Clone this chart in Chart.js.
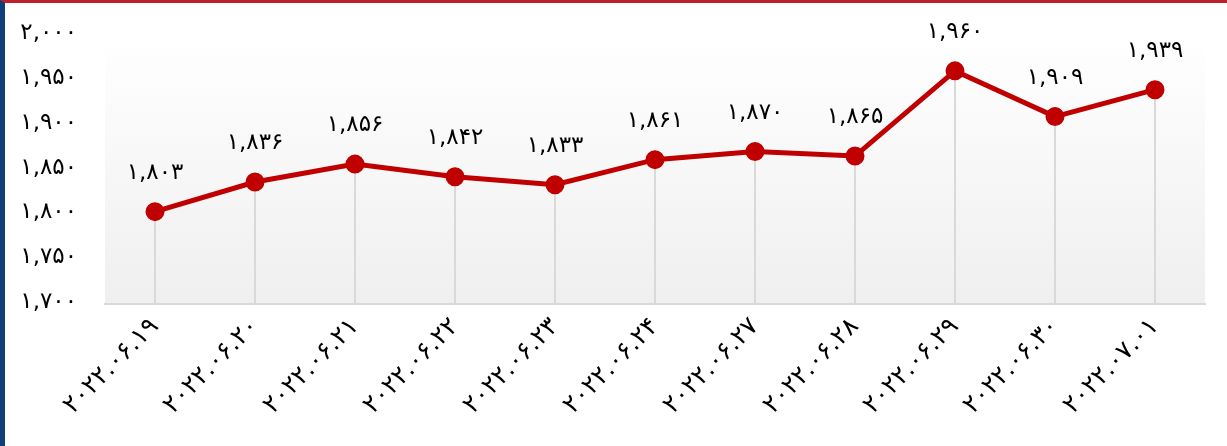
<!DOCTYPE html>
<html>
<head>
<meta charset="utf-8">
<script src="https://cdn.jsdelivr.net/npm/chart.js@4/dist/chart.umd.min.js"></script>
<style>
  html, body { margin: 0; padding: 0; background: #fff; }
  body {
    width: 1222px; height: 443px;
    border-left: 5px solid #0e3f7c;
    border-top: 3px solid #c0202a;
    overflow: hidden;
  }
  #wrap { width: 1222px; height: 443px; position: relative; }
</style>
</head>
<body>
<div id="wrap"><canvas id="chart"></canvas></div>
<script>
const dates = ["2022.06.19", "2022.06.20", "2022.06.21", "2022.06.22", "2022.06.23", "2022.06.24",
  "2022.06.27", "2022.06.28", "2022.06.29", "2022.06.30", "2022.07.01"];
const prices = [1803, 1836, 1856, 1842, 1833, 1861, 1870, 1865, 1960, 1909, 1939];
const yTicks = [1700, 1750, 1800, 1850, 1900, 1950, 2000];

const faDigits = "۰۱۲۳۴۵۶۷۸۹";
const toFa = (s) => String(s).replace(/[0-9]/g, (d) => faDigits[+d]);
const fmt = (n) => toFa(n.toLocaleString("en-US"));

const FONT = "'DejaVu Sans', sans-serif";

// plot background: white at top fading to light grey
const bgPlugin = {
  id: "plotBg",
  beforeDraw(chart) {
    const { ctx, chartArea: a } = chart;
    const g = ctx.createLinearGradient(0, a.top, 0, a.bottom);
    g.addColorStop(0, "#ffffff");
    g.addColorStop(1, "#efefef");
    ctx.save();
    ctx.fillStyle = g;
    ctx.fillRect(a.left, a.top, a.right - a.left, a.bottom - a.top);
    ctx.restore();
  },
};

// y labels drawn by hand so the persian digits sit level with their ticks
const yLabels = {
  id: "yLabels",
  afterDraw(chart) {
    const { ctx, chartArea: a } = chart;
    const y = chart.scales.y;
    ctx.save();
    ctx.font = "23px " + FONT;
    ctx.fillStyle = "#000";
    ctx.textAlign = "right";
    ctx.textBaseline = "alphabetic";
    yTicks.forEach((v) => {
      ctx.fillText(fmt(v), a.left - 28, y.getPixelForValue(v) + 4);
    });
    ctx.restore();
  },
};

// thin grey drop lines from each point to the axis
const dropLines = {
  id: "dropLines",
  beforeDatasetsDraw(chart) {
    const { ctx, chartArea: a } = chart;
    const meta = chart.getDatasetMeta(0);
    ctx.save();
    ctx.strokeStyle = "#d9d9d9";
    ctx.lineWidth = 2;
    meta.data.forEach((pt) => {
      ctx.beginPath();
      ctx.moveTo(pt.x, pt.y);
      ctx.lineTo(pt.x, a.bottom);
      ctx.stroke();
    });
    ctx.restore();
  },
};

// value labels above points
const valueLabels = {
  id: "valueLabels",
  afterDatasetsDraw(chart) {
    const { ctx } = chart;
    const meta = chart.getDatasetMeta(0);
    ctx.save();
    ctx.font = "23px " + FONT;
    ctx.fillStyle = "#000";
    ctx.textAlign = "center";
    ctx.textBaseline = "alphabetic";
    meta.data.forEach((pt, i) => {
      ctx.fillText(fmt(prices[i]), pt.x, pt.y - 33);
    });
    ctx.restore();
  },
};

new Chart(document.getElementById("chart"), {
  type: "line",
  data: {
    labels: dates,
    datasets: [
      {
        data: prices,
        borderColor: "#c00000",
        backgroundColor: "#c00000",
        borderWidth: 5,
        pointRadius: 7,
        pointHoverRadius: 7,
        pointBackgroundColor: "#c00000",
        pointBorderColor: "#c00000",
        tension: 0,
      },
    ],
  },
  options: {
    responsive: true,
    maintainAspectRatio: false,
    animation: false,
    layout: { padding: { top: 32, right: 22, left: 0, bottom: 0 } },
    plugins: { legend: { display: false }, tooltip: { enabled: false } },
    scales: {
      x: {
        offset: true,
        grid: { display: false, drawTicks: false },
        border: { display: true, color: "#d9d9d9", width: 2 },
        ticks: {
          color: "#000",
          font: { family: FONT, size: 25 },
          maxRotation: 45,
          minRotation: 45,
          padding: 8,
          callback: (v, i) => toFa(dates[i]),
        },
        afterFit: (s) => { s.height = 142; },
      },
      y: {
        min: 1700,
        max: 2000,
        grid: { display: false, drawTicks: false },
        border: { display: false },
        afterBuildTicks: (s) => { s.ticks = yTicks.map((v) => ({ value: v })); },
        ticks: { display: false },
        afterFit: (s) => { s.width = 100; },
      },
    },
  },
  plugins: [bgPlugin, dropLines, valueLabels, yLabels],
});
</script>
</body>
</html>
